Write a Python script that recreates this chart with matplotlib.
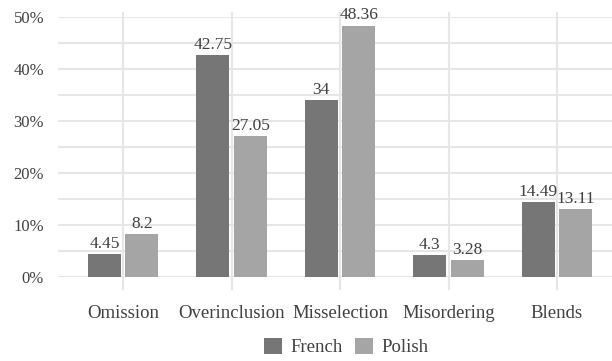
import matplotlib
matplotlib.use("Agg")
import matplotlib.pyplot as plt
import numpy as np

categories = ["Omission", "Overinclusion", "Misselection", "Misordering", "Blends"]
french = [4.45, 42.75, 34, 4.3, 14.49]
polish = [8.2, 27.05, 48.36, 3.28, 13.11]
french_labels = ["4.45", "42.75", "34", "4.3", "14.49"]
polish_labels = ["8.2", "27.05", "48.36", "3.28", "13.11"]

plt.rcParams['font.family'] = ['Liberation Serif', 'DejaVu Serif']
txt = '#404040'
grid = '#e6e6e6'

fig = plt.figure(figsize=(6.12, 3.61), dpi=100)
W, H = 612, 361
ax = fig.add_axes([58 / W, 1 - 277 / H, (612 - 58) / W, (277 - 17) / H])

x = np.arange(len(categories))
w = 0.305
off = 0.02
b1 = ax.bar(x - off - w / 2, french, w, color='#767676', label='French', zorder=3)
b2 = ax.bar(x + off + w / 2, polish, w, color='#a5a5a5', label='Polish', zorder=3)

for bars, labs in ((b1, french_labels), (b2, polish_labels)):
    for r, s in zip(bars, labs):
        ax.text(r.get_x() + r.get_width() / 2, r.get_height() + 0.4, s,
                ha='center', va='bottom', fontsize=12.5, color=txt, zorder=4)

ax.set_xlim(-0.6, 4.507)
ax.set_ylim(0, 50)
for yv in np.arange(0, 51, 5):
    ax.axhline(yv, color=grid, lw=1.5, zorder=1)
for xv in x:
    ax.axvline(xv, ymin=-0.045, ymax=1.015, color=grid, lw=1.5, zorder=1, clip_on=False)

ax.set_yticks(np.arange(0, 51, 10))
ax.set_yticklabels([f"{v}%" for v in range(0, 51, 10)])
ax.set_xticks(x)
ax.set_xticklabels(categories)
ax.tick_params(length=0, colors=txt)
ax.tick_params(axis='x', pad=20, labelsize=13.5)
ax.tick_params(axis='y', pad=10, labelsize=12)
for s in ax.spines.values():
    s.set_visible(False)

ax.legend(loc='center', bbox_to_anchor=(0.52, -0.27), ncol=2,
          frameon=False, fontsize=13.5, handlelength=0.95, handleheight=0.95,
          handletextpad=0.45, columnspacing=0.65, labelcolor=txt)

fig.savefig("out.png", dpi=100)
